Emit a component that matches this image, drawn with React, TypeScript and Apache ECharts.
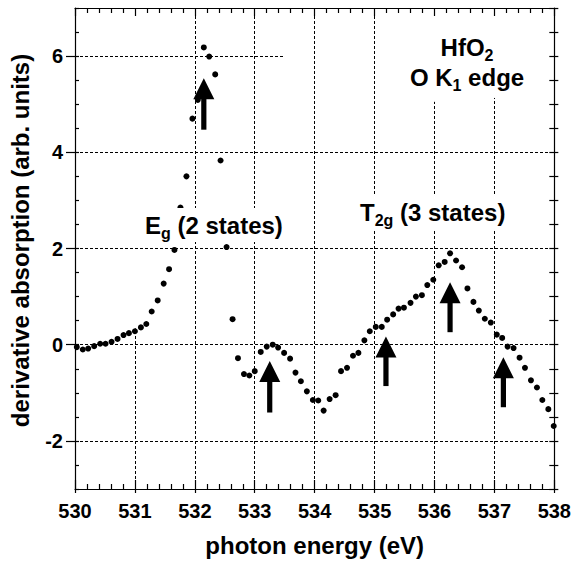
import React, { useEffect, useRef } from 'react';
import * as echarts from 'echarts';

// photon energy (eV) of each measured point
const energies = [
  530.03, 530.13, 530.22, 530.32, 530.42, 530.51, 530.61, 530.71, 530.81, 530.90,
  531.00, 531.10, 531.19, 531.28, 531.38, 531.48, 531.57, 531.66, 531.76, 531.86,
  531.96, 532.05, 532.15, 532.24, 532.34, 532.43, 532.53, 532.63, 532.72, 532.82,
  532.91, 533.00, 533.10, 533.20, 533.30, 533.39, 533.49, 533.59, 533.68, 533.77,
  533.87, 533.97, 534.06, 534.15, 534.25, 534.35, 534.44, 534.54, 534.64, 534.73,
  534.83, 534.92, 535.02, 535.12, 535.21, 535.31, 535.40, 535.49, 535.60, 535.69,
  535.79, 535.88, 535.98, 536.07, 536.17, 536.26, 536.36, 536.46, 536.55, 536.65,
  536.74, 536.84, 536.94, 537.04, 537.13, 537.22, 537.32, 537.42, 537.51, 537.61,
  537.71, 537.80, 537.90, 537.99,
];

// derivative absorption (arb. units)
const derivative = [
  -0.05, -0.10, -0.08, -0.03, 0.02, 0.02, 0.06, 0.12, 0.20, 0.24,
  0.28, 0.36, 0.43, 0.69, 0.92, 1.27, 1.57, 1.97, 2.85, 3.50,
  4.70, 5.09, 6.18, 5.99, 5.62, 3.83, 2.03, 0.53, -0.28, -0.61,
  -0.64, -0.55, -0.15, -0.04, 0.00, -0.06, -0.17, -0.29, -0.58, -0.76,
  -0.97, -1.15, -1.16, -1.37, -1.13, -1.05, -0.55, -0.48, -0.23, -0.17,
  0.09, 0.28, 0.37, 0.37, 0.52, 0.63, 0.75, 0.77, 0.87, 1.00,
  1.03, 1.24, 1.35, 1.65, 1.72, 1.90, 1.75, 1.61, 1.17, 0.89,
  0.71, 0.54, 0.46, 0.21, 0.14, -0.04, -0.07, -0.27, -0.48, -0.74,
  -0.89, -1.15, -1.34, -1.69,
];

const yTickLabels = [-2, 0, 2, 4, 6];

// arrows marking the states: energy, tip value, tail value
const arrowEnergy = [532.15, 533.25, 535.19, 536.26, 537.15];
const arrowTip = [5.54, -0.34, 0.17, 1.30, -0.26];
const arrowTail = [4.47, -1.41, -0.86, 0.26, -1.30];

// dotted grid segments: [position, from, to]
const vGrid = [
  [531, -3, 0.34], [532, -3, 7], [533, -3, 7], [534, -3, 7],
  [535, -3, 7], [536, -3, 5.05], [537, -3, 5.13],
];
const hGrid = [
  [-2, 530, 538], [0, 530, 538], [2, 530, 538], [4, 530, 538], [6, 530, 533.5],
];

const FONT = "'Liberation Sans', Arial, Helvetica, sans-serif";
const BLACK = '#000';

const mainRich = { fontSize: 24, fontWeight: 'bold', fontFamily: FONT, color: BLACK, lineHeight: 34 };
const subRich = { fontSize: 16, fontWeight: 'bold', fontFamily: FONT, color: BLACK, lineHeight: 20, padding: [16, 0, 0, 0] };

export default function App() {
  const ref = useRef<HTMLDivElement>(null);

  useEffect(() => {
    document.body.style.margin = '0';
    if (!ref.current) return;
    const chart = echarts.init(ref.current, null, { renderer: 'svg' });

    const axisLine = { show: true, onZero: false, lineStyle: { color: BLACK, width: 1.2 } };
    const noLine = { show: false, onZero: false };
    const tickStyle = { color: BLACK, width: 1.2 };

    const option: any = {
      animation: false,
      backgroundColor: '#fff',
      grid: { left: 74, right: 18, top: 8, bottom: 73, containLabel: false },
      xAxis: [
        {
          type: 'value', position: 'bottom', min: 530, max: 538, interval: 1,
          axisLine,
          axisTick: { show: true, inside: true, length: 9, lineStyle: tickStyle },
          minorTick: { show: true, splitNumber: 5, length: 5, lineStyle: tickStyle },
          axisLabel: { margin: 12, fontSize: 20, fontWeight: 'bold', fontFamily: FONT, color: BLACK },
          splitLine: { show: false },
          name: 'photon energy (eV)', nameLocation: 'middle', nameGap: 44,
          nameTextStyle: { fontSize: 24, fontWeight: 'bold', fontFamily: FONT, color: BLACK },
        },
        {
          type: 'value', position: 'bottom', min: 530, max: 538, interval: 1,
          axisLine: noLine,
          axisTick: { show: true, inside: false, length: 4, lineStyle: tickStyle },
          axisLabel: { show: false }, splitLine: { show: false },
        },
        {
          type: 'value', position: 'top', min: 530, max: 538, interval: 1,
          axisLine,
          axisTick: { show: true, inside: true, length: 8, lineStyle: tickStyle },
          minorTick: { show: true, splitNumber: 5, length: 5, lineStyle: tickStyle },
          axisLabel: { show: false }, splitLine: { show: false },
        },
      ],
      yAxis: [
        {
          type: 'value', position: 'left', min: -3, max: 7, interval: 1,
          axisLine,
          axisTick: { show: true, inside: false, length: 9, customValues: yTickLabels, lineStyle: tickStyle },
          axisLabel: { customValues: yTickLabels, margin: 12, fontSize: 20, fontWeight: 'bold', fontFamily: FONT, color: BLACK },
          splitLine: { show: false },
          name: 'derivative absorption (arb. units)', nameLocation: 'middle', nameGap: 43,
          nameTextStyle: { fontSize: 24, fontWeight: 'bold', fontFamily: FONT, color: BLACK, padding: [0, 0, 0, 16] },
        },
        {
          type: 'value', position: 'left', min: -3, max: 7, interval: 0.5,
          axisLine: noLine,
          axisTick: { show: true, inside: true, length: 4, lineStyle: tickStyle },
          axisLabel: { show: false }, splitLine: { show: false },
        },
        {
          type: 'value', position: 'right', min: -3, max: 7, interval: 0.5,
          axisLine,
          axisTick: { show: true, inside: true, length: 5, lineStyle: tickStyle },
          axisLabel: { show: false }, splitLine: { show: false },
        },
        {
          type: 'value', position: 'right', min: -3, max: 7, interval: 0.5,
          axisLine: noLine,
          axisTick: { show: true, inside: false, length: 4, lineStyle: tickStyle },
          axisLabel: { show: false }, splitLine: { show: false },
        },
      ],
      series: [
        {
          type: 'scatter', xAxisIndex: 0, yAxisIndex: 0, z: 3,
          symbol: 'circle', symbolSize: 6,
          itemStyle: { color: BLACK, opacity: 1 },
          silent: true,
          data: energies.map((e, i) => [e, derivative[i]]),
          markLine: {
            silent: true, z: 1, symbol: ['none', 'none'], animation: false,
            label: { show: false },
            emphasis: { disabled: true },
            lineStyle: { color: BLACK, type: [3, 2], width: 1 },
            data: [
              ...vGrid.map(([x, a, b]) => [{ coord: [x, a] }, { coord: [x, b] }]),
              ...hGrid.map(([y, a, b]) => [{ coord: [a, y] }, { coord: [b, y] }]),
            ],
          },
        },
        {
          type: 'custom', xAxisIndex: 0, yAxisIndex: 0, z: 20, silent: true,
          data: arrowEnergy.map((e, i) => [e, arrowTip[i], arrowTail[i]]),
          encode: { x: 0, y: [1, 2] },
          renderItem: (params: any, api: any) => {
            const tip = api.coord([api.value(0), api.value(1)]);
            const tail = api.coord([api.value(0), api.value(2)]);
            const hw = 10.5, hh = 21, sw = 2.6;
            return {
              type: 'group',
              children: [
                {
                  type: 'polygon',
                  shape: { points: [[tip[0], tip[1]], [tip[0] - hw, tip[1] + hh], [tip[0] + hw, tip[1] + hh]] },
                  style: { fill: BLACK },
                },
                {
                  type: 'rect',
                  shape: { x: tip[0] - sw, y: tip[1] + hh - 1, width: sw * 2, height: tail[1] - tip[1] - hh + 1 },
                  style: { fill: BLACK },
                },
              ],
            };
          },
        },
      ],
      graphic: [
        {
          type: 'text', x: 467, y: 47, z: 50, silent: true,
          style: { text: '{m|HfO}{s|2}', rich: { m: mainRich, s: subRich }, align: 'center', verticalAlign: 'middle' },
        },
        {
          type: 'text', x: 467, y: 77, z: 50, silent: true,
          style: { text: '{m|O K}{s|1}{m| edge}', rich: { m: mainRich, s: subRich }, align: 'center', verticalAlign: 'middle' },
        },
        {
          type: 'text', x: 145, y: 225, z: 50, silent: true,
          style: {
            text: '{m|E}{s|g}{m| (2 states)}', rich: { m: mainRich, s: subRich },
            align: 'left', verticalAlign: 'middle', backgroundColor: '#fff',
          },
        },
        {
          type: 'text', x: 360, y: 212, z: 50, silent: true,
          style: {
            text: '{m|T}{s|2g}{m| (3 states)}', rich: { m: mainRich, s: subRich },
            align: 'left', verticalAlign: 'middle', backgroundColor: '#fff',
          },
        },
      ],
    };

    chart.setOption(option);
    return () => chart.dispose();
  }, []);

  return <div ref={ref} style={{ width: 574, height: 562 }} />;
}
